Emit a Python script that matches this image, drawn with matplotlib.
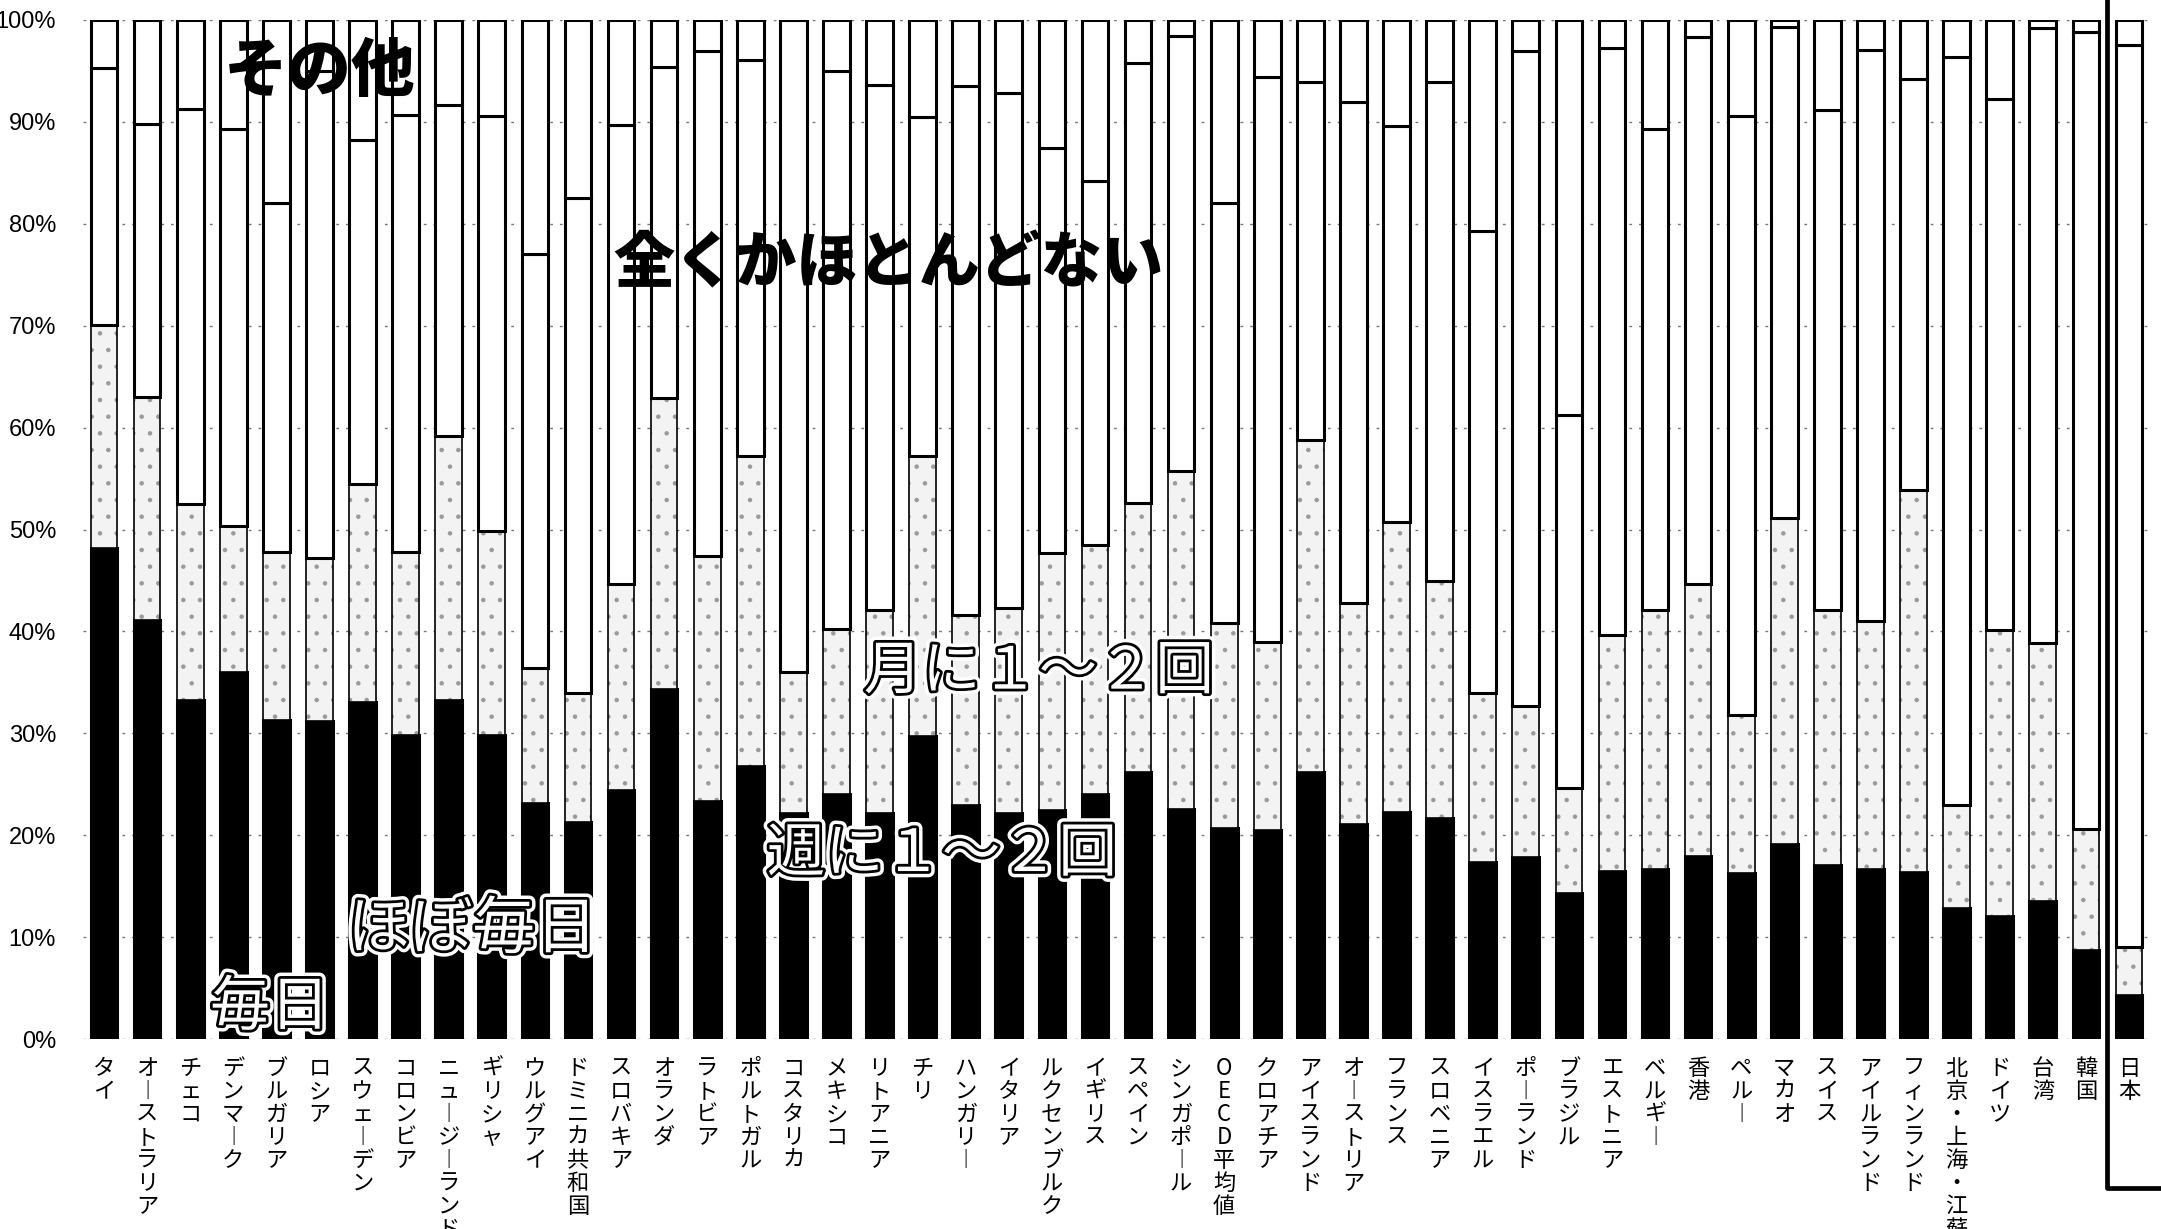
import matplotlib.pyplot as plt
import matplotlib.patheffects as pe
from matplotlib.transforms import blended_transform_factory
import numpy as np

plt.rcParams['font.family'] = ['Noto Sans CJK JP', 'DejaVu Sans']
plt.rcParams['hatch.linewidth'] = 0.8

# countries (left to right)
countries = ['タイ', 'オーストラリア', 'チェコ', 'デンマーク', 'ブルガリア', 'ロシア',
             'スウェーデン', 'コロンビア', 'ニュージーランド', 'ギリシャ', 'ウルグアイ',
             'ドミニカ共和国', 'スロバキア', 'オランダ', 'ラトビア', 'ポルトガル',
             'コスタリカ', 'メキシコ', 'リトアニア', 'チリ', 'ハンガリー', 'イタリア',
             'ルクセンブルク', 'イギリス', 'スペイン', 'シンガポール', 'OECD平均値',
             'クロアチア', 'アイスランド', 'オーストリア', 'フランス', 'スロベニア',
             'イスラエル', 'ポーランド', 'ブラジル', 'エストニア', 'ベルギー', '香港',
             'ペルー', 'マカオ', 'スイス', 'アイルランド', 'フィンランド',
             '北京・上海・江蘇', 'ドイツ', '台湾', '韓国', '日本']

# shares (%), bottom to top
daily = [48.2, 41.1, 33.3, 36.0, 31.3, 31.2, 33.1, 29.8, 33.3, 29.8, 23.2, 21.3,
         24.4, 34.3, 23.4, 26.8, 22.2, 24.0, 22.2, 29.7, 23.0, 22.2, 22.5, 24.0,
         26.2, 22.6, 20.7, 20.5, 26.2, 21.1, 22.3, 21.7, 17.4, 17.9, 14.3, 16.5,
         16.7, 18.0, 16.3, 19.1, 17.1, 16.7, 16.4, 12.9, 12.1, 13.5, 8.7, 4.3]
weekly = [21.9, 21.9, 19.2, 14.3, 16.5, 16.0, 21.4, 18.0, 25.9, 20.1, 13.2, 12.7,
          20.3, 28.6, 24.0, 30.4, 13.8, 16.2, 19.9, 27.5, 18.6, 20.1, 25.2, 24.5,
          26.4, 33.1, 20.1, 18.5, 32.6, 21.7, 28.4, 23.2, 16.6, 14.8, 10.3, 23.1,
          25.4, 26.7, 15.5, 32.0, 25.0, 24.3, 37.5, 10.1, 28.0, 25.4, 11.9, 4.7]
never = [25.2, 26.8, 38.8, 39.0, 34.2, 47.8, 33.7, 42.9, 32.5, 40.7, 40.6, 48.5,
         45.0, 32.5, 49.6, 38.9, 64.0, 54.8, 51.5, 33.3, 51.9, 50.5, 39.7, 35.7,
         43.2, 42.7, 41.2, 55.4, 35.1, 49.2, 38.9, 49.0, 45.3, 64.3, 36.6, 57.7,
         47.2, 53.6, 58.8, 48.2, 49.1, 56.1, 40.3, 73.4, 52.1, 60.3, 78.2, 88.5]
other = [4.7, 10.2, 8.7, 10.7, 18.0, 5.0, 11.8, 9.3, 8.3, 9.4, 23.0, 17.5,
         10.3, 4.6, 3.0, 3.9, 0.0, 5.0, 6.4, 9.5, 6.5, 7.2, 12.6, 15.8,
         4.2, 1.6, 18.0, 5.6, 6.1, 8.0, 10.4, 6.1, 20.7, 3.0, 38.8, 2.7,
         10.7, 1.7, 9.4, 0.7, 8.8, 2.9, 5.8, 3.6, 7.8, 0.8, 1.2, 2.5]

fig = plt.figure(figsize=(21.61, 12.29), dpi=100)
ax = fig.add_axes([82.5 / 2161, 190 / 1229, 2068 / 2161, 1019 / 1229])

x = np.arange(len(countries))
w = 0.62
series = [np.array(daily), np.array(weekly), np.array(never), np.array(other)]
bottoms = np.cumsum([np.zeros(len(x))] + series[:-1], axis=0)

# black part
ax.bar(x, series[0], w, bottom=bottoms[0], color='black', edgecolor='black',
       linewidth=2.2, zorder=3)
# stippled part: hatch layer then outline
ax.bar(x, series[1], w, bottom=bottoms[1], color='#f3f3f3', edgecolor='#9a9a9a',
       linewidth=0, hatch='.', zorder=3)
ax.bar(x, series[1], w, bottom=bottoms[1], fill=False, edgecolor='black',
       linewidth=1.2, zorder=4)
# white parts
ax.bar(x, series[2], w, bottom=bottoms[2], color='white', edgecolor='black',
       linewidth=2.2, zorder=4)
ax.bar(x, series[3], w, bottom=bottoms[3], color='white', edgecolor='black',
       linewidth=2.2, zorder=4)

ax.set_xlim(-0.5, len(x) - 0.5)
ax.set_ylim(0, 100)
ax.set_yticks(range(0, 101, 10))
ax.set_yticklabels([f'{v}%' for v in range(0, 101, 10)], family='Liberation Sans',
                   fontsize=17)
ax.yaxis.grid(True, linestyle=(0, (2, 5)), color='#777777', linewidth=1.0)
ax.set_axisbelow(True)
for s in ax.spines.values():
    s.set_visible(False)
ax.tick_params(axis='y', length=0, pad=19)
ax.tick_params(axis='x', length=0, pad=13)

# vertical (tategaki) tick labels
vert = ['\n'.join(c.replace('ー', '︱')) for c in countries]
ax.set_xticks(x)
ax.set_xticklabels(vert, fontsize=16, linespacing=1.0)

# in-chart category labels
ax.text(5.0, 94.9, 'その他', fontsize=46, fontweight='heavy', ha='center', va='center',
        zorder=6)
ax.text(18.2, 76.0, '全くかほとんどない', fontsize=44, fontweight='heavy', ha='center',
        va='center', zorder=6)
outline = [pe.Stroke(linewidth=9, foreground='white'),
           pe.Stroke(linewidth=4, foreground='black'), pe.Normal()]
for txt, xx, yy, fs in [('月に１～２回', 21.7, 36.0, 42), ('週に１～２回', 19.45, 18.1, 42),
                        ('ほぼ毎日', 8.55, 10.7, 45), ('毎日', 3.85, 3.0, 43)]:
    ax.text(xx, yy, txt, fontsize=fs, color='white', ha='center', va='center',
            path_effects=outline, zorder=6)

# frame around Japan
tr = blended_transform_factory(ax.transData, fig.transFigure)
ax.plot([46.5, 46.5, 48.5], [1.0, 41 / 1229, 41 / 1229], color='black', linewidth=3.4,
        transform=tr, clip_on=False, zorder=7)

fig.savefig('out.png', dpi=100)
